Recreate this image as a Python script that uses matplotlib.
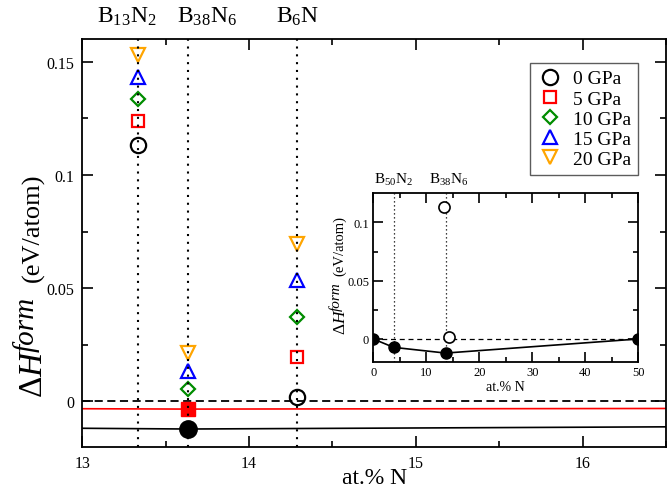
import matplotlib
matplotlib.use("Agg")
import matplotlib.pyplot as plt
import numpy as np

plt.rcParams['font.family'] = ['Liberation Serif', 'DejaVu Serif']
plt.rcParams['mathtext.fontset'] = 'custom'
plt.rcParams['mathtext.rm'] = 'Liberation Serif'
plt.rcParams['mathtext.it'] = 'Liberation Serif:italic'
plt.rcParams['mathtext.bf'] = 'Liberation Serif:bold'

# ---------------- data ----------------
compounds = ["B$_{13}$N$_2$", "B$_{38}$N$_6$", "B$_6$N"]
comp_x = [13.333, 13.636, 14.286]
pressures = ["0 GPa", "5 GPa", "10 GPa", "15 GPa", "20 GPa"]
h_0gpa = [0.1132, -0.0122, 0.0020]
h_5gpa = [0.1237, -0.0033, 0.0197]
h_10gpa = [0.1334, 0.0055, 0.0373]
h_15gpa = [0.1431, 0.0136, 0.0535]
h_20gpa = [0.1530, 0.0215, 0.0697]
on_hull_0 = [False, True, False]
on_hull_5 = [False, True, False]

# hull lines (main panel)
hull0_x = [0.0, 3.846, 13.636, 50.0]
hull0_y = [0.0, -0.0072, -0.0122, 0.0]
hull5_x = [0.0, 13.636, 50.0]
hull5_y = [0.0, -0.0034, 0.0]

# inset data
inset_hull_x = [0.0, 3.846, 13.636, 50.0]
inset_hull_y = [0.0, -0.0072, -0.0121, 0.0]
inset_open_x = [13.4, 14.286]
inset_open_y = [0.1135, 0.0017]
inset_comp = ["B$_{50}$N$_2$", "B$_{38}$N$_6$"]
inset_comp_x = [3.846, 13.636]

series = [h_0gpa, h_5gpa, h_10gpa, h_15gpa, h_20gpa]
markers = ['o', 's', 'D', '^', 'v']
colors = ['black', '#ff0000', '#008c00', '#0000ff', '#ffa500']
msizes = [11, 9, 7.5, 10.5, 10.5]

W, H = 668, 489
fig = plt.figure(figsize=(W / 100, H / 100), dpi=100)


def px(x, y):
    return x / W, 1 - y / H


def ylabel_parts(cx, bottoms, sizes, raise_px):
    """Compose rotated 'ΔH^form (eV/atom)'; bottoms are pixel starts."""
    s_dh, s_form, s_unit = sizes
    b_dh, b_form, b_unit = bottoms
    fig.text(*px(cx + 1, b_dh), r"$\Delta H$", rotation=90, ha='center',
             va='bottom', fontsize=s_dh)
    fig.text(*px(cx - raise_px, b_form), "form", rotation=90, ha='center',
             va='bottom', fontsize=s_form, fontstyle='italic')
    fig.text(*px(cx, b_unit), "(eV/atom)", rotation=90, ha='center',
             va='bottom', fontsize=s_unit)


ax = fig.add_axes([0.1232, 0.0845, 0.8738, 0.8337])

ax.set_xlim(13, 16.5)
ax.set_ylim(-0.02, 0.16)

# hull lines
ax.plot(hull0_x, hull0_y, color='black', lw=1.2, zorder=2)
ax.plot(hull5_x, hull5_y, color='#ff0000', lw=1.2, zorder=2)
ax.axhline(0, color='black', lw=1.3, ls=(0, (4.5, 2.5)), zorder=2)

# dotted verticals
for cx in comp_x:
    ax.axvline(cx, color='black', lw=1.5, ls=(0, (1, 2.75)), zorder=5)

# points
for i, (vals, m, c, ms) in enumerate(zip(series, markers, colors, msizes)):
    for j, (xv, yv) in enumerate(zip(comp_x, vals)):
        filled = (i == 0 and on_hull_0[j]) or (i == 1 and on_hull_5[j])
        if filled:
            ax.plot([xv], [yv], marker=m, color=c, ms=ms + 1.5, mfc=c, mec=c,
                    ls='none', zorder=4)
        else:
            ax.plot([xv], [yv], marker=m, color=c, ms=ms, mfc='none', mec=c,
                    mew=1.6, ls='none', zorder=4)
    ax.plot([], [], marker=m, color=c, ms=ms, mfc='none', mec=c, mew=1.6,
            ls='none', label=pressures[i])

leg = ax.legend(loc='upper right', bbox_to_anchor=(0.9525, 0.941), fontsize=14,
                frameon=True, fancybox=False, edgecolor='#333333',
                handletextpad=0.5, labelspacing=0.13, borderpad=0.35,
                handlelength=1.4, borderaxespad=0.0)
leg.get_frame().set_linewidth(1.0)

# ticks
ax.set_xticks([13, 14, 15, 16])
ax.set_xticks(np.arange(13.5, 16.6, 1.0), minor=True)
ax.set_yticks([0, 0.05, 0.1, 0.15])
ax.set_yticklabels(['0', '0.05', '0.1', '0.15'])
ax.set_yticks(np.arange(-0.025, 0.16, 0.05)[1:], minor=True)
ax.set_xticklabels(['13', '14', '15', '16'])
ax.tick_params(which='both', direction='in', top=True, right=True,
               labelsize=11.5, width=1.2, pad=6)
ax.tick_params(which='major', length=8)
ax.tick_params(which='minor', length=4)
for s in ax.spines.values():
    s.set_linewidth(1.3)

ax.set_xlabel("at.% N", fontsize=17, labelpad=-3)
ylabel_parts(33, (398, 352, 282), (24, 21, 19), 7)

label_x = [13.27, 13.75, 14.29]
for lbl, lx in zip(compounds, label_x):
    ax.text(lx, 1.03, lbl, transform=ax.get_xaxis_transform(), ha='center',
            va='bottom', fontsize=17)

# ---------------- inset ----------------
ins = fig.add_axes([0.5588, 0.2571, 0.3967, 0.3456])
ins.set_facecolor('white')
ins.set_xlim(0, 50)
ins.set_ylim(-0.02, 0.125)
ins.axhline(0, color='black', lw=0.9, ls=(0, (4, 3)), zorder=2)
for cx in inset_comp_x:
    ins.axvline(cx, color='black', lw=0.9, ls=(0, (1, 2.2)), zorder=2)
ins.plot(inset_hull_x, inset_hull_y, color='black', lw=1.2, marker='o', ms=8,
         zorder=3)
ins.plot(inset_open_x, inset_open_y, ls='none', marker='o', ms=8, mfc='white',
         mec='black', mew=1.2, zorder=4)
ins.set_xticks([0, 10, 20, 30, 40, 50])
ins.set_xticks(np.arange(5, 50, 10), minor=True)
ins.set_yticks([0, 0.05, 0.1])
ins.set_yticklabels(['0', '0.05', '0.1'])
ins.set_yticks([-0.025 + 0.05 * k for k in range(1, 3)], minor=True)
ins.tick_params(which='both', direction='in', top=True, right=True,
                labelsize=9, width=1.2, pad=3)
ins.tick_params(which='major', length=7)
ins.tick_params(which='minor', length=3.5)
for s in ins.spines.values():
    s.set_linewidth(1.3)
ins.set_xlabel("at.% N", fontsize=10, labelpad=1)
ylabel_parts(340, (335, 311, 276), (12.5, 11, 10.5), 4)
inset_label_x = [3.8, 14.2]
for lbl, lx in zip(inset_comp, inset_label_x):
    ins.text(lx, 1.04, lbl, transform=ins.get_xaxis_transform(), ha='center',
             va='bottom', fontsize=11)

fig.savefig("out.png", dpi=100)
